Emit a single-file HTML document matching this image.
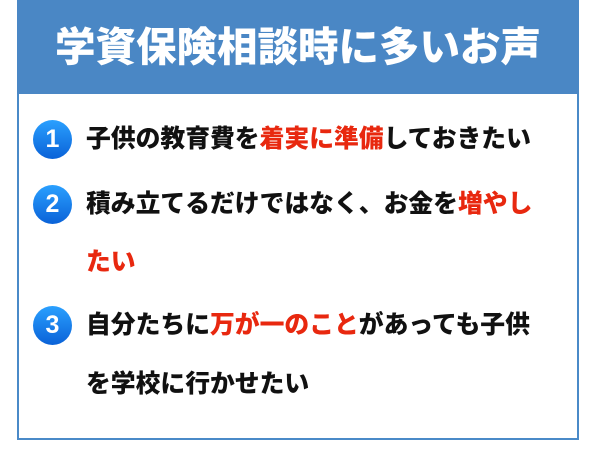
<!DOCTYPE html>
<html><head><meta charset="utf-8"><style>
body{margin:0;width:600px;height:471px;background:#fff;font-family:"Liberation Sans","Noto Sans CJK JP",sans-serif;position:relative;overflow:hidden}
.box{position:absolute;left:17px;top:0;width:558px;height:438px;border:2px solid #4a8ac8;border-top:none}
.hd{position:absolute;left:17px;top:0;width:562px;height:94px;background:#4a87c5;color:#fff;font-weight:900;font-size:40.5px;text-align:center;line-height:94px}
.l{position:absolute;left:86px;font-size:24.8px;font-weight:900;color:#111;white-space:nowrap;line-height:30px}
.r{color:#e8280f}
.n{position:absolute;left:33px;width:39px;height:39px;border-radius:50%;background:linear-gradient(#2aa0ff,#0a62d8);color:#fff;font-weight:900;font-size:25px;text-align:center;line-height:39px;font-family:"Liberation Sans",sans-serif}
</style></head><body>
<div class="box"></div>
<div class="hd">学資保険相談時に多いお声</div>
<div class="n" style="top:120px">1</div>
<div class="l" style="top:125px">子供の教育費を<span class="r">着実に準備</span>しておきたい</div>
<div class="n" style="top:185px">2</div>
<div class="l" style="top:190px">積み立てるだけではなく、お金を<span class="r">増やし</span></div>
<div class="l r" style="top:248px">たい</div>
<div class="n" style="top:306px">3</div>
<div class="l" style="top:311px">自分たちに<span class="r">万が一のこと</span>があっても子供</div>
<div class="l" style="top:370px">を学校に行かせたい</div>
</body></html>
